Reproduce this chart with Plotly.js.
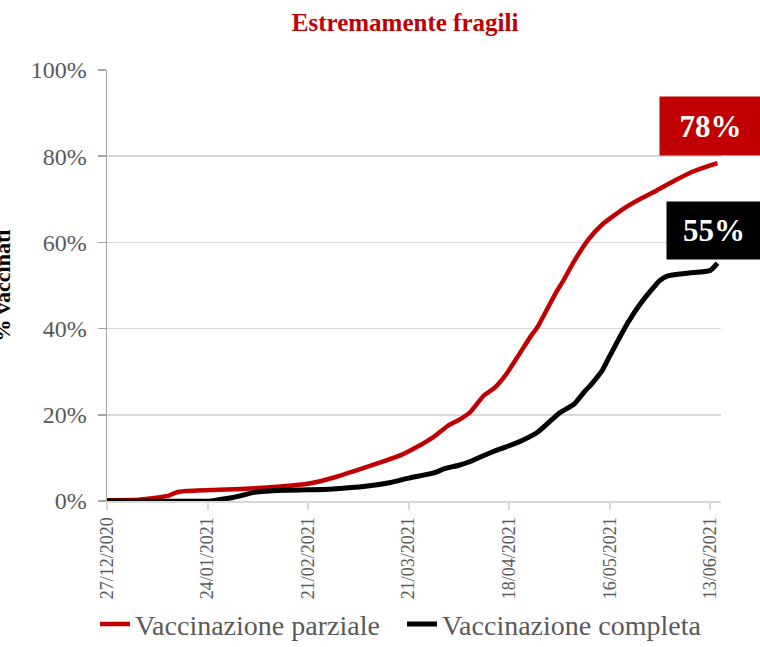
<!DOCTYPE html>
<html>
<head>
<meta charset="utf-8">
<script src="https://cdn.plot.ly/plotly-3.0.1.min.js"></script>
<style>html,body{margin:0;padding:0;background:#fff;}#chart{width:760px;height:647px;}</style>
</head>
<body>
<div id="chart"></div>
<script>
// Partial vaccination (red)
const partialDates = ['2020-12-27','2021-01-05','2021-01-08','2021-01-13','2021-01-15','2021-01-18','2021-01-27','2021-02-05','2021-02-14','2021-02-21','2021-02-28','2021-03-09','2021-03-14','2021-03-19','2021-03-23','2021-03-28','2021-04-01','2021-04-04','2021-04-07','2021-04-11','2021-04-14','2021-04-17','2021-04-21','2021-04-24','2021-04-26','2021-05-01','2021-05-03','2021-05-06','2021-05-10','2021-05-14','2021-05-20','2021-05-25','2021-05-29','2021-06-03','2021-06-08','2021-06-12','2021-06-15'];
const partialValues = [0.2,0.3,0.6,1.2,1.9,2.3,2.6,2.9,3.4,4.0,5.4,7.8,9.2,10.7,12.4,14.9,17.5,18.8,20.5,24.5,26.3,29.2,34.3,38.2,40.5,48.3,51.0,55.5,60.6,64.2,67.9,70.3,72.0,74.3,76.4,77.6,78.4];

// Complete vaccination (black)
const completeDates = ['2020-12-27','2021-01-25','2021-01-27','2021-01-31','2021-02-03','2021-02-06','2021-02-14','2021-02-21','2021-02-28','2021-03-09','2021-03-16','2021-03-21','2021-03-28','2021-03-31','2021-04-04','2021-04-07','2021-04-10','2021-04-14','2021-04-17','2021-04-21','2021-04-26','2021-05-02','2021-05-06','2021-05-09','2021-05-11','2021-05-14','2021-05-16','2021-05-21','2021-05-25','2021-05-30','2021-06-01','2021-06-07','2021-06-13','2021-06-15'];
const completeValues = [0,0,0.3,0.8,1.4,2.0,2.5,2.6,2.8,3.4,4.3,5.3,6.5,7.5,8.3,9.1,10.2,11.6,12.5,13.8,16.0,20.4,22.4,25.4,27.2,30.4,33.6,41.3,46.3,51.2,52.2,52.9,53.5,55.2];

const tickDates = ['2020-12-27','2021-01-24','2021-02-21','2021-03-21','2021-04-18','2021-05-16','2021-06-13'];
const tickLabels = ['27/12/2020','24/01/2021','21/02/2021','21/03/2021','18/04/2021','16/05/2021','13/06/2021'];
const yTicks = [0,20,40,60,80,100];
const yTickLabels = ['0%','20%','40%','60%','80%','100%'];

const seriesNames = ['Vaccinazione parziale','Vaccinazione completa'];
const endLabels = ['78%','55%'];
const titleText = 'Estremamente fragili';
const yTitleText = '% vaccinati';

const serif = 'Liberation Serif, Times New Roman, serif';

const traces = [
  {x: partialDates, y: partialValues, name: seriesNames[0], type: 'scatter', mode: 'lines',
   line: {color: '#c00000', width: 4.5, shape: 'spline', smoothing: 0.5}, hoverinfo: 'skip'},
  {x: completeDates, y: completeValues, name: seriesNames[1], type: 'scatter', mode: 'lines',
   line: {color: '#000000', width: 5, shape: 'spline', smoothing: 0.5}, hoverinfo: 'skip'}
];

const layout = {
  width: 760, height: 647,
  margin: {l: 107, r: 39, t: 70, b: 146},
  paper_bgcolor: '#fff', plot_bgcolor: '#fff',
  showlegend: true,
  title: {text: '<b>' + titleText + '</b>', font: {family: serif, size: 25, color: '#c00000'},
          x: 0.533, xanchor: 'center', y: 0.966, yanchor: 'middle', xref: 'container', yref: 'container'},
  xaxis: {
    type: 'date', range: ['2020-12-27', '2021-06-16'],
    tickvals: tickDates, ticktext: tickLabels, tickangle: -90,
    tickfont: {family: serif, size: 18, color: '#595959'},
    showgrid: false, zeroline: false,
    showline: true, linecolor: '#d9d9d9', linewidth: 2,
    ticks: 'outside', ticklen: 7, tickwidth: 2, tickcolor: '#d9d9d9'
  },
  yaxis: {
    range: [0, 100], tickmode: 'array', tickvals: yTicks, ticktext: yTickLabels,
    tickfont: {family: serif, size: 24, color: '#595959'},
    showgrid: true, gridcolor: '#d9d9d9', gridwidth: 1.5,
    zeroline: false, showline: true, linecolor: '#a6a6a6', linewidth: 1.5,
    ticks: 'outside', ticklen: 8, tickwidth: 1.5, tickcolor: '#a6a6a6',
    ticklabelstandoff: 6
  },
  legend: {orientation: 'h', xref: 'container', yref: 'container', x: 95 / 760, xanchor: 'left', y: 0.035, yanchor: 'middle',
           font: {family: serif, size: 28, color: '#595959'}, itemwidth: 30, tracegroupgap: 0,
           entrywidth: 262, entrywidthmode: 'pixels'},
  annotations: [
    {xref: 'paper', yref: 'y', x: (659 - 107) / 614, y: 87.0, xanchor: 'left', yanchor: 'middle',
     text: '<b>' + endLabels[0] + '</b>', showarrow: false, bgcolor: '#c00000', borderpad: 0,
     width: 101, height: 58, align: 'center', valign: 'middle',
     font: {family: serif, size: 31, color: '#ffffff'}},
    {xref: 'paper', yref: 'y', x: (666 - 107) / 614, y: 62.8, xanchor: 'left', yanchor: 'middle',
     text: '<b>' + endLabels[1] + '</b>', showarrow: false, bgcolor: '#000000', borderpad: 0,
     width: 94, height: 57, align: 'center', valign: 'middle',
     font: {family: serif, size: 31, color: '#ffffff'}},
    {xref: 'paper', yref: 'paper', x: (2 - 107) / 614, y: 0.5, xanchor: 'center', yanchor: 'middle',
     text: '<b>' + yTitleText + '</b>', showarrow: false, textangle: -90,
     font: {family: serif, size: 22, color: '#000000'}}
  ]
};

Plotly.newPlot('chart', traces, layout, {displayModeBar: false, staticPlot: true});
</script>
</body>
</html>
